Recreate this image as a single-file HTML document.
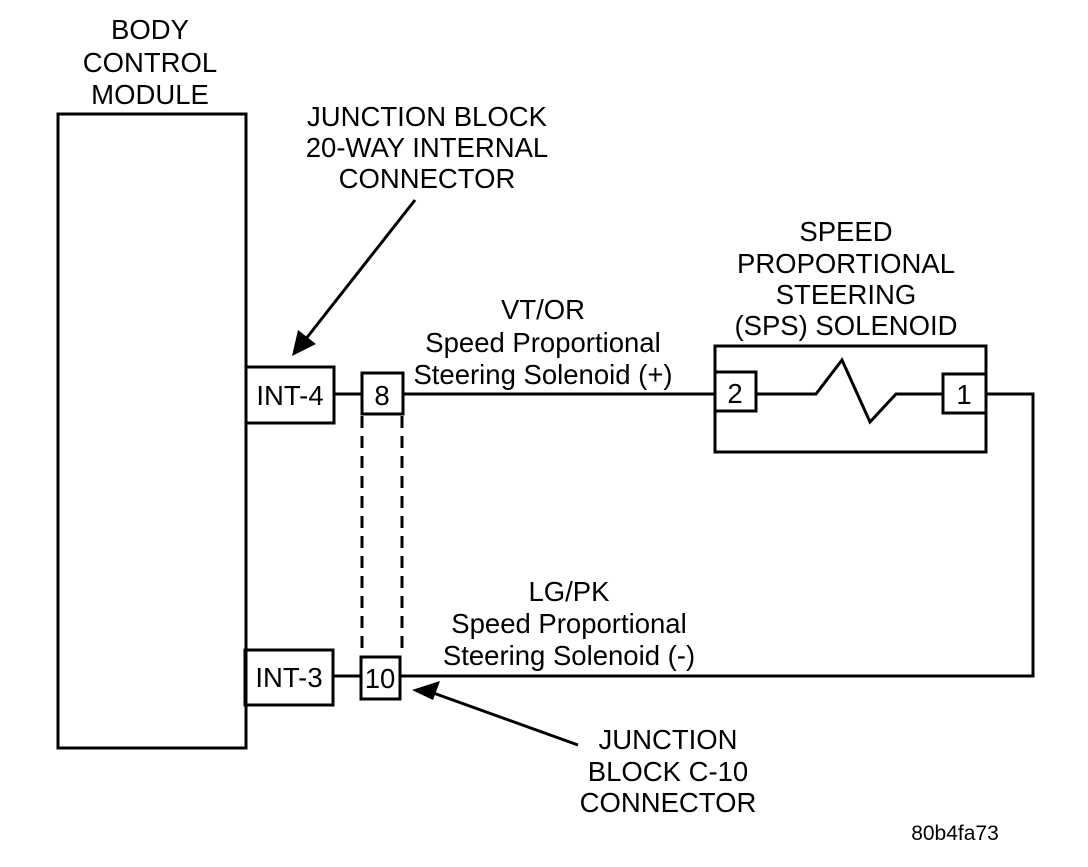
<!DOCTYPE html>
<html><head><style>
body{margin:0;background:#fff;width:1088px;height:862px;overflow:hidden}
svg text{font-family:"Liberation Sans",sans-serif;font-size:27.5px;fill:#000;text-anchor:middle}
</style></head><body>
<svg width="1088" height="862" viewBox="0 0 1088 862" stroke="#000" fill="none">
<g stroke-width="3">
<rect x="58" y="114" width="188" height="634"/>
<rect x="246" y="367" width="88" height="56"/>
<rect x="362" y="373" width="41" height="41"/>
<rect x="245" y="650" width="88" height="55"/>
<rect x="361" y="657" width="39" height="42"/>
<rect x="715" y="346" width="271" height="106"/>
<rect x="715" y="372" width="41" height="39"/>
<rect x="943" y="374" width="43" height="39"/>
<polyline points="334,394 362,394"/>
<polyline points="333,676 361,676"/>
<polyline points="403,394 715,394"/>
<polyline points="756,394 816,394 842,360 870,422 896,394 943,394"/>
<polyline points="986,394 1033,394 1033,676 400,676"/>
<line x1="362" y1="416" x2="362" y2="656" stroke-dasharray="12,8"/>
<line x1="402" y1="416" x2="402" y2="656" stroke-dasharray="12,8"/>
<line x1="415" y1="200" x2="305" y2="340"/>
<line x1="578" y1="745" x2="425" y2="690"/>
</g>
<polygon points="292,356 298,330 316,344" fill="#000" stroke="none"/>
<polygon points="412,690 440,681 433,700" fill="#000" stroke="none"/>
<g stroke="none">
<text x="150" y="39">BODY</text>
<text x="150" y="72">CONTROL</text>
<text x="150" y="104">MODULE</text>
<text x="427" y="126">JUNCTION BLOCK</text>
<text x="427" y="157">20-WAY INTERNAL</text>
<text x="427" y="188">CONNECTOR</text>
<text x="846" y="241">SPEED</text>
<text x="846" y="273">PROPORTIONAL</text>
<text x="846" y="304">STEERING</text>
<text x="846" y="335">(SPS) SOLENOID</text>
<text x="543" y="319">VT/OR</text>
<text x="543" y="352">Speed Proportional</text>
<text x="543" y="384">Steering Solenoid (+)</text>
<text x="569" y="601">LG/PK</text>
<text x="569" y="633">Speed Proportional</text>
<text x="569" y="665">Steering Solenoid (-)</text>
<text x="668" y="749">JUNCTION</text>
<text x="668" y="781">BLOCK C-10</text>
<text x="668" y="812">CONNECTOR</text>
<text x="290" y="405">INT-4</text>
<text x="289" y="687">INT-3</text>
<text x="382" y="405">8</text>
<text x="380" y="688">10</text>
<text x="735" y="403">2</text>
<text x="964" y="404">1</text>
<text x="955" y="840" style="font-size:21px">80b4fa73</text>
</g>
</svg>
</body></html>
